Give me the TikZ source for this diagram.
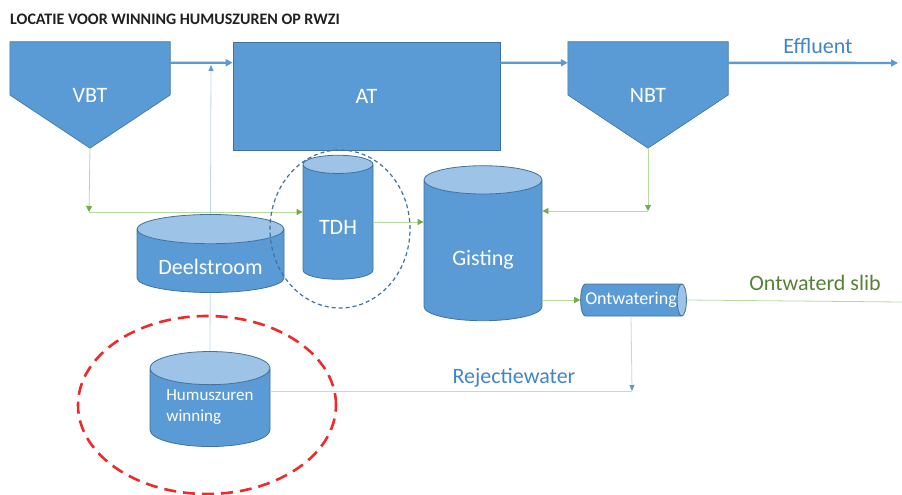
\documentclass[tikz,border=0pt]{standalone}
\usepackage{fontspec}
\setmainfont{Carlito}
\usetikzlibrary{arrows.meta, positioning, calc, backgrounds, shapes.geometric}

\definecolor{tankblue}{HTML}{5B9BD5}
\definecolor{tanktop}{HTML}{9DC3E6}
\definecolor{tankedge}{HTML}{41719C}
\definecolor{paleblue}{HTML}{BDD7EE}
\definecolor{textblue}{HTML}{3F86C6}
\definecolor{palegreen}{HTML}{B5DA9E}
\definecolor{tipgreen}{HTML}{70AD47}
\definecolor{slibgreen}{HTML}{548235}
\definecolor{titlegray}{HTML}{231F20}
\definecolor{ringred}{HTML}{EE2A2A}

\begin{document}
\begin{tikzpicture}[
  x=1pt, y=-1pt,
  font=\fontsize{22}{26}\selectfont,
  flow/.style={-{Triangle[length=7pt,width=7pt]}, line width=2.4pt, draw=tankblue},
  sludge/.style={-{Triangle[length=6pt,width=6pt,color=tipgreen]}, line width=0.8pt, draw=palegreen},
  sludgeline/.style={line width=0.8pt, draw=palegreen},
  water/.style={-{Triangle[length=6pt,width=5pt,color=tankblue]}, line width=0.8pt, draw=paleblue},
  waterline/.style={line width=0.8pt, draw=paleblue},
  basin/.style={rectangle, text=white, inner sep=0pt,
                minimum width=160pt, minimum height=106pt},
  tankfill/.style={fill=tankblue, draw=tankedge, line width=0.6pt},
  vessel/.style={cylinder, shape border rotate=90, cylinder uses custom fill,
                 cylinder body fill=tankblue, cylinder end fill=tanktop,
                 draw=tankedge, line width=0.8pt, text=white, inner sep=0pt},
  flowtext/.style={inner sep=0pt, text=textblue},
  ring/.style={ellipse, inner sep=0pt}
]
\useasboundingbox (0,0) rectangle (902,495);

\node[anchor=base west, inner sep=0pt, text=titlegray,
      font=\fontsize{16}{19}\selectfont\bfseries] (title) at (10,25)
      {LOCATIE VOOR WINNING HUMUSZUREN OP RWZI};

% basins
\node[basin] (vbt) at (90,95) {VBT};
\node[rectangle, tankfill, text=white,
      minimum width=267pt, minimum height=108pt] (atank) at (366.5,96) {AT};
\node[basin] (nbt) at (648,95) {NBT};

% sludge line
\node[vessel, minimum width=70pt, minimum height=124pt, aspect=0.48,
      text height=24pt, text depth=0pt] (tdh) at (338,222) {TDH};
\node[vessel, minimum width=147pt, minimum height=78pt, aspect=0.28,
      text height=26pt, text depth=0pt] (deel) at (210.5,261) {Deelstroom};
\node[vessel, minimum width=118pt, minimum height=155pt, aspect=0.46,
      text height=33.6pt, text depth=4.6pt] (gisting) at (483,250.5) {Gisting};
\node[vessel, shape border rotate=0, minimum width=32pt, minimum height=103pt, aspect=0.6,
      font=\fontsize{18}{20}\selectfont] (ontw) at (631,300) {Ontwatering};
\node[vessel, minimum width=120pt, minimum height=95pt, aspect=0.38, align=left,
      font=\fontsize{17}{21}\selectfont] (humus) at (210,407.5) {Humuszuren\\winning};

\begin{scope}[on background layer]
  \filldraw[tankfill] (vbt.north west) -- (vbt.north east) -- (vbt.east)
    -- (vbt.south) -- (vbt.west) -- cycle;
  \filldraw[tankfill] (nbt.north west) -- (nbt.north east) -- (nbt.east)
    -- (nbt.south) -- (nbt.west) -- cycle;
  \coordinate (feedtip) at (211,65);
  \draw[water] (humus.north) -- (feedtip);
\end{scope}

% water line
\draw[flow] ($(vbt.north east)+(0,21)$) -- ($(atank.north west)+(0,21)$);
\draw[flow] ($(atank.north east)+(0,21)$) -- ($(nbt.north west)+(0,21)$);
\coordinate (effend) at (898,63);
\draw[flow] ($(nbt.north east)+(0,21)$) -- (effend);
\node[flowtext] (efflabel) at (818,46) {Effluent};

% sludge
\coordinate (vbtdrop) at (89,212);
\draw[sludge] (vbt.south) -- (vbtdrop);
\draw[sludge] (vbtdrop) -- (vbtdrop -| tdh.west);
\draw[sludge] (tdh.east) -- (tdh.east -| gisting.west);
\coordinate (nbtdrop) at (648,211);
\draw[sludge] (nbt.south) -- (nbtdrop);
\draw[sludge] (nbtdrop) -- (nbtdrop -| gisting.east);
\draw[sludge] (gisting.east |- ontw.west) -- (ontw.west);
\coordinate (slibend) at (902,302);
\draw[sludgeline] (ontw.east) -- (slibend);
\node[flowtext, text=slibgreen] (sliblabel) at (815,283) {Ontwaterd slib};

% reject water
\coordinate (rejmerge) at (632,391);
\draw[water] (ontw.south) -- (rejmerge);
\draw[waterline] (humus.east |- rejmerge) -- (rejmerge);
\node[flowtext] (rejlabel) at (514,378) {Rejectiewater};

% rings
\node[ring, draw=tankedge, line width=1.2pt, dash pattern=on 4pt off 3pt,
      minimum width=140pt, minimum height=158pt] (tdhring) at (340,229) {};
\node[ring, draw=ringred, line width=2.6pt, dash pattern=on 12pt off 7pt,
      minimum width=258pt, minimum height=178pt] (humusring) at (207,405) {};

\end{tikzpicture}
\end{document}
